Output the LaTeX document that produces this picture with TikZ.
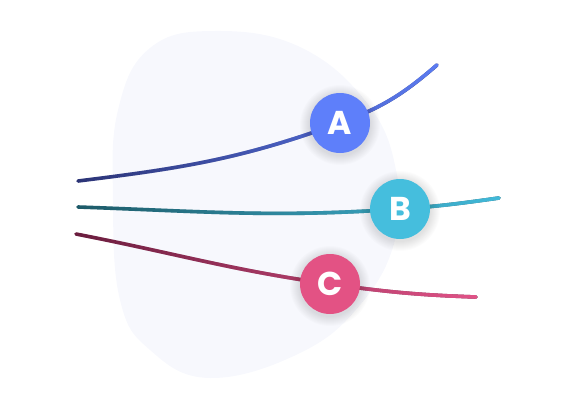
\documentclass[tikz,border=0pt]{standalone}
\usepackage{fontspec}
\newfontfamily\letterfont{Poppins}
\usetikzlibrary{fadings,backgrounds}
\definecolor{blobfill}{RGB}{247,248,253}
\definecolor{aDark}{RGB}{44,52,118}
\definecolor{aLight}{RGB}{92,124,242}
\definecolor{aFill}{RGB}{94,127,250}
\definecolor{bDark}{RGB}{29,90,104}
\definecolor{bLight}{RGB}{66,186,218}
\definecolor{bFill}{RGB}{69,190,221}
\definecolor{cDark}{RGB}{106,29,62}
\definecolor{cLight}{RGB}{226,83,136}
\definecolor{cFill}{RGB}{227,82,132}
\tikzfading[name=ramp in, left color=transparent!100, right color=transparent!0]
\begin{document}
\begin{tikzpicture}[
  x=1pt, y=1pt,
  wire/.style={line width=3.6pt, line cap=round},
  lighten/.style={wire, draw=#1, path fading=ramp in},
  bubble/.style={circle, minimum size=60pt, inner sep=0pt, fill=#1,
    text=white, font=\letterfont\bfseries\fontsize{33pt}{33pt}\selectfont}
]
  \useasboundingbox (0,0) rectangle (580,400);
  % ---- 节点 ----
  \node[bubble=aFill] (A) at (340,277) {A};
  \node[bubble=bFill] (B) at (400,191) {B};
  \node[bubble=cFill] (C) at (330,116) {C};
  % ---- 端点 ----
  \coordinate (a0) at ( 78,219);
  \coordinate (a1) at (437,335);
  \coordinate (b0) at ( 78,193);
  \coordinate (b1) at (499,202);
  \coordinate (c0) at ( 76,166);
  \coordinate (c1) at (476,103);
  \begin{scope}[on background layer]
    % ---- 背景色块 ----
    \fill[blobfill] plot[smooth cycle, tension=0.7] coordinates {
      (210,22) (300,47) (360,95) (395,160) (396,230) (367,297) (300,353)
      (215,369) (150,352) (118,290) (113,200) (120,100) (150,50)};
    % ---- 曲线：深色打底，浅色渐入 ----
    \draw[wire, aDark] (a0) to[out=7,in=200] (A.center) to[out=20,in=221] (a1);
    \draw[lighten=aLight] (a0) to[out=7,in=200] (A.center) to[out=20,in=221] (a1);
    \draw[wire, bDark] (b0) to[out=-2,in=184] (B.center) to[out=4,in=188] (b1);
    \draw[lighten=bLight] (b0) to[out=-2,in=184] (B.center) to[out=4,in=188] (b1);
    \draw[wire, cDark] (c0) to[out=-11,in=172] (C.center) to[out=-8,in=178] (c1);
    \draw[lighten=cLight] (c0) to[out=-11,in=172] (C.center) to[out=-8,in=178] (c1);
    % ---- 圆的柔和阴影 ----
    \foreach \n in {A,B,C}
      \foreach \r in {31,...,40}
        \fill[black, opacity=0.01] ([yshift=-2pt]\n.center) circle (\r);
  \end{scope}
\end{tikzpicture}
\end{document}
